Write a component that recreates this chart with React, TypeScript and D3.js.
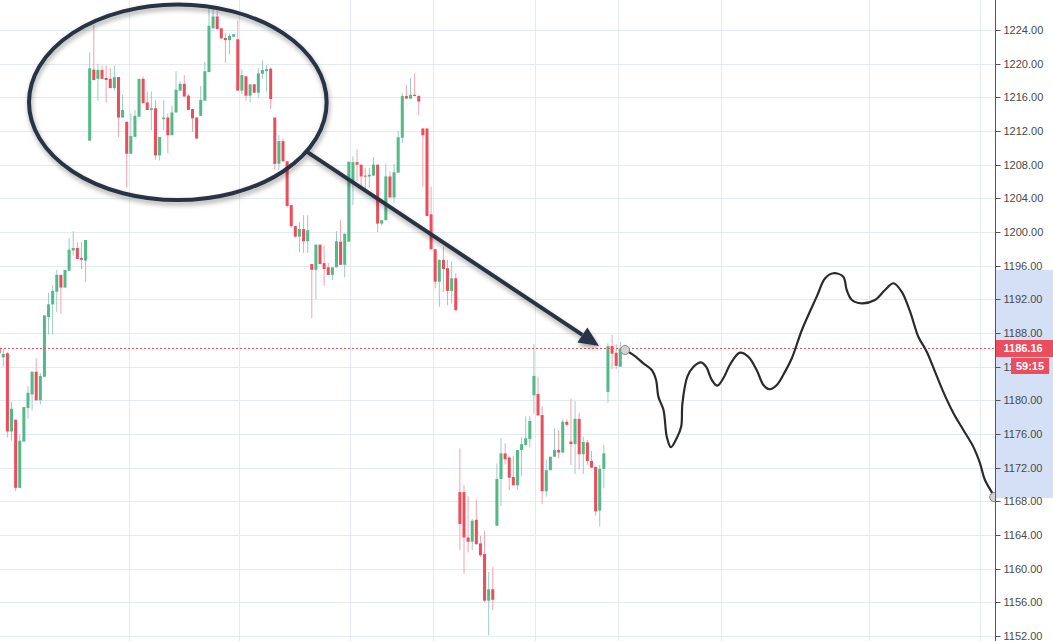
import React from "react";
import * as d3 from "d3";

// ---- data (bar index, OHLC) ----
const OPENS = [1186.2,1185.1,1185.6,1176.3,1177.7,1169.6,1175.1,1179.1,1180.7,1183.4,1180.0,1182.8,1189.9,1191.4,1192.9,1194.9,1193.4,1195.4,1197.8,1198.1,1196.9,1196.6,1210.85,1219.3,1218.2,1219.25,1218.3,1218.2,1217.1,1218.4,1213.6,1213.1,1209.3,1211.3,1213.7,1218.2,1215.4,1214.5,1214.7,1209.1,1213.4,1213.6,1211.5,1214.2,1216.8,1217.6,1216.2,1214.6,1213.6,1213.8,1215.6,1219.0,1224.2,1225.6,1224.2,1223.05,1222.8,1223.2,1222.9,1216.8,1218.5,1216.2,1217.55,1216.55,1218.8,1219.1,1219.4,1213.6,1208.1,1210.8,1208.4,1203.2,1200.7,1199.45,1200.35,1198.9,1196.2,1195.5,1198.5,1196.3,1195.8,1194.9,1195.8,1198.85,1196.1,1198.85,1206.0,1208.3,1208.0,1206.7,1206.6,1206.7,1208.0,1201.0,1201.4,1206.6,1204.1,1207.05,1211.2,1216.15,1215.85,1216.3,1216.15,1212.3,1212.3,1202.1,1197.95,1194.1,1196.7,1195.7,1193.0,1194.5,1169.1,1169.1,1163.7,1163.2,1165.8,1163.0,1161.75,1156.2,1157.55,1165.1,1170.65,1173.7,1173.2,1170.9,1169.9,1174.1,1174.7,1175.4,1180.6,1180.75,1178.25,1169.2,1171.7,1173.3,1174.1,1173.8,1177.45,1175.1,1174.8,1177.8,1173.6,1175.0,1172.8,1172.1,1166.9,1171.85,1181.0,1186.45,1185.65,1184.0];
const HIGHS = [1186.3,1186.1,1185.7,1179.8,1177.7,1175.9,1179.2,1181.7,1183.4,1185.0,1183.25,1190.1,1192.8,1193.7,1195.5,1194.9,1195.5,1199.3,1200.1,1198.8,1198.8,1199.05,1221.35,1224.6,1220.0,1219.8,1219.8,1219.5,1219.8,1218.4,1216.3,1213.1,1214.1,1214.5,1218.2,1218.45,1216.7,1216.7,1215.7,1211.3,1215.7,1214.1,1215.0,1219.1,1217.9,1218.65,1216.4,1214.6,1213.6,1217.35,1220.2,1226.5,1226.5,1226.5,1224.2,1223.6,1223.6,1223.5,1225.1,1219.3,1218.5,1217.55,1217.55,1219.45,1220.4,1219.8,1219.6,1213.6,1211.5,1211.1,1208.4,1203.2,1200.7,1201.15,1202.0,1202.0,1196.2,1198.5,1198.5,1198.4,1196.3,1195.8,1200.1,1201.4,1199.8,1208.35,1209.0,1209.8,1208.0,1207.6,1207.6,1208.9,1208.0,1201.4,1208.1,1207.2,1208.1,1212.0,1216.5,1217.5,1218.3,1218.85,1216.3,1212.3,1212.3,1205.4,1197.95,1196.7,1198.25,1196.7,1196.5,1195.1,1174.3,1169.95,1168.6,1165.9,1168.2,1163.9,1164.5,1159.6,1160.2,1172.5,1175.5,1174.9,1173.4,1173.4,1174.1,1175.6,1178.1,1178.1,1186.7,1182.8,1179.25,1172.9,1173.3,1176.7,1176.5,1177.75,1177.75,1180.2,1179.9,1178.5,1175.7,1175.3,1174.0,1172.1,1172.3,1174.7,1186.8,1187.8,1186.7,1186.97];
const LOWS = [1185.4,1184.0,1175.6,1175.2,1169.2,1169.6,1175.1,1177.8,1178.8,1180.0,1179.5,1182.8,1187.8,1187.8,1190.5,1190.3,1193.4,1195.4,1197.2,1196.8,1195.6,1194.1,1210.85,1218.0,1215.6,1218.2,1215.4,1217.1,1216.8,1211.3,1213.6,1205.3,1209.3,1211.3,1213.7,1215.3,1214.5,1212.1,1208.6,1208.5,1212.1,1209.35,1211.5,1214.2,1216.8,1216.1,1214.5,1211.9,1211.1,1213.8,1215.6,1219.0,1224.2,1224.1,1223.0,1220.1,1221.1,1223.2,1216.8,1216.4,1215.6,1215.4,1216.55,1216.0,1218.2,1216.7,1214.6,1207.4,1207.4,1208.4,1202.9,1200.55,1199.3,1197.6,1197.5,1197.5,1189.75,1192.0,1196.2,1193.6,1194.9,1194.3,1195.8,1196.1,1194.6,1198.85,1203.2,1206.0,1205.2,1205.1,1205.3,1206.7,1200.0,1200.7,1201.4,1204.1,1203.5,1207.05,1210.6,1215.85,1215.85,1216.15,1213.9,1205.4,1201.9,1197.95,1193.3,1191.1,1192.9,1191.3,1191.5,1190.7,1162.2,1159.4,1161.95,1162.2,1162.9,1161.4,1156.0,1152.1,1155.1,1165.1,1167.45,1172.4,1169.35,1169.9,1169.4,1171.0,1174.6,1174.4,1178.4,1178.2,1167.7,1168.55,1171.7,1173.3,1173.1,1173.8,1176.9,1172.3,1171.25,1171.8,1171.25,1172.3,1172.0,1166.3,1165.0,1169.55,1179.7,1183.7,1183.7,1184.0];
const CLOSES = [1185.6,1185.5,1176.3,1179.0,1169.6,1175.2,1179.2,1180.9,1183.4,1180.0,1182.9,1190.1,1191.4,1193.0,1194.9,1193.4,1195.5,1197.9,1198.1,1196.8,1196.7,1199.05,1219.45,1218.06,1219.25,1218.2,1218.06,1217.1,1218.4,1213.6,1214.5,1209.3,1211.4,1213.8,1218.2,1215.3,1214.5,1214.7,1209.1,1211.3,1213.6,1211.5,1214.2,1216.9,1217.6,1216.1,1214.5,1213.5,1211.1,1215.7,1219.1,1224.5,1225.6,1224.1,1223.0,1222.8,1223.3,1223.5,1216.8,1218.65,1216.2,1217.55,1216.55,1218.85,1219.25,1219.35,1215.8,1208.1,1210.8,1208.4,1203.1,1200.7,1199.45,1200.35,1198.9,1200.2,1195.5,1198.5,1196.2,1195.6,1194.9,1195.8,1198.9,1196.1,1199.8,1208.35,1208.3,1208.0,1206.6,1206.6,1206.8,1208.0,1201.0,1201.4,1206.6,1204.1,1207.1,1211.25,1216.15,1215.85,1216.3,1216.15,1215.5,1211.5,1201.9,1197.95,1194.1,1196.7,1195.6,1193.0,1194.5,1190.7,1165.3,1163.7,1163.2,1165.7,1162.9,1161.6,1156.2,1157.55,1156.3,1170.65,1173.7,1173.0,1170.8,1169.9,1174.1,1174.8,1175.5,1177.55,1182.9,1178.2,1169.2,1171.7,1173.3,1174.1,1173.8,1177.45,1177.1,1174.8,1177.8,1173.6,1175.05,1172.8,1172.0,1166.8,1171.85,1173.7,1186.45,1185.55,1184.1,1186.16];

const PRICE_TICKS = d3.range(1152, 1225, 4);
const TIME_GRID = [31.45, 58.4, 85.35, 105.4, 130.3, 150.35, 175.4, 211.4, 238.4];
const LAST_PRICE = 1186.16;
const COUNTDOWN = "59:15";

// hand-drawn forecast path (bar index, price)
const DRAW_IDX = [152.16,154.17,156.6,158.65,159.7,160.25,161.5,162.3,163.3,164.7,165.8,166.1,167.3,168.8,170.6,171.85,173.25,174.6,176.05,177.85,180.1,182.1,184.15,185.8,187.25,189.05,191.05,192.7,195.15,198.75,200.8,202.8,205.2,206.05,207.3,209.7,212.9,215.35,217.4,219.4,221.45,223.45,225.5,227.5,229.5,232.0,234.4,236.8,238.45,239.65,241.7,241.9];
const DRAW_PRICE = [1185.98,1185.39,1184.4,1183.6,1182.42,1180.44,1178.86,1175.68,1174.43,1175.5,1176.87,1179.65,1182.81,1184.0,1184.52,1184.0,1182.42,1181.74,1182.62,1184.4,1185.66,1185.19,1183.6,1181.83,1181.32,1181.83,1183.41,1185.0,1188.36,1192.32,1194.5,1195.1,1194.69,1193.11,1191.92,1191.53,1191.92,1193.11,1193.91,1192.91,1190.53,1187.56,1185.78,1183.41,1181.03,1178.46,1176.48,1174.5,1172.52,1170.54,1168.76,1168.5];

// ellipse + arrow annotation (bar index, price)
const ELLIPSE = { idx: 43.43, price: 1215.41, rIdx: 36.18, rPrice: 11.62 };
const ARROW_FROM = { idx: 74.77, price: 1209.54 };
const ARROW_TO = { idx: 145.83, price: 1186.46 };
const RANGE_HILITE = [1195.5, 1168.4];

const W = 1053, H = 641, AXIS_X = 995.5;
const UP = "#53b987", DOWN = "#eb4d5c", UP_WICK = "#9ecbc7", DOWN_WICK = "#f4a3ab";
const GRID = "#e3ebf0";

export default function App() {
  const x = d3.scaleLinear().domain([1, 151]).range([3.3, 620.3]);
  const y = d3.scaleLinear().domain([1152, 1224]).range([636, 30]);

  const bars = OPENS.map((o, i) => ({ i, o, h: HIGHS[i], l: LOWS[i], c: CLOSES[i] }));

  const linePath = d3
    .line<number>()
    .x((_, k) => x(DRAW_IDX[k]))
    .y((p) => y(p))
    .curve(d3.curveCatmullRom.alpha(0.5))(DRAW_PRICE) || "";

  const ecx = x(ELLIPSE.idx), ecy = y(ELLIPSE.price);
  const erx = x(ELLIPSE.idx + ELLIPSE.rIdx) - ecx;
  const ery = y(ELLIPSE.price - ELLIPSE.rPrice) - ecy;

  const ax0 = x(ARROW_FROM.idx), ay0 = y(ARROW_FROM.price);
  const ax1 = x(ARROW_TO.idx), ay1 = y(ARROW_TO.price);
  const ang = Math.atan2(ay1 - ay0, ax1 - ax0);
  const headLen = 20, headW = 9;
  const bx = ax1 - headLen * Math.cos(ang), by = ay1 - headLen * Math.sin(ang);
  const nx = -Math.sin(ang), ny = Math.cos(ang);
  const head = `${ax1},${ay1} ${bx + nx * headW},${by + ny * headW} ${bx - nx * headW},${by - ny * headW}`;

  const font = "'Liberation Sans', Arial, sans-serif";

  return (
    <div style={{ position: "absolute", left: 0, top: 0, width: W, height: H, background: "#fff" }}>
      <svg width={W} height={H} style={{ display: "block" }}>
        <defs>
          <clipPath id="plot">
            <rect x={0} y={0} width={AXIS_X} height={H} />
          </clipPath>
          <filter id="shadow" x="-20%" y="-20%" width="140%" height="140%">
            <feDropShadow dx="1" dy="3" stdDeviation="2.5" floodColor="#000" floodOpacity="0.35" />
          </filter>
        </defs>
        <rect x={0} y={0} width={W} height={H} fill="#fff" />
        <g clipPath="url(#plot)">
          {PRICE_TICKS.map((t) => (
            <line key={"h" + t} x1={0} x2={AXIS_X} y1={Math.round(y(t)) + 0.5} y2={Math.round(y(t)) + 0.5} stroke={GRID} strokeWidth={1} />
          ))}
          {TIME_GRID.map((t) => (
            <line key={"v" + t} x1={Math.round(x(t)) + 0.5} x2={Math.round(x(t)) + 0.5} y1={0} y2={H} stroke={GRID} strokeWidth={1} />
          ))}
          {bars.map((b) => {
            const up = b.c >= b.o;
            const cx = x(b.i);
            const top = y(Math.max(b.o, b.c));
            const bot = y(Math.min(b.o, b.c));
            return (
              <g key={b.i}>
                <line x1={cx} x2={cx} y1={y(b.h)} y2={y(b.l)} stroke={up ? UP_WICK : DOWN_WICK} strokeWidth={1} />
                <rect x={cx - 1.5} y={top} width={3} height={Math.max(1, bot - top)} fill={up ? UP : DOWN} />
              </g>
            );
          })}
          <line x1={0} x2={AXIS_X} y1={y(LAST_PRICE)} y2={y(LAST_PRICE)} stroke={DOWN} strokeWidth={1} strokeDasharray="2,2" />

          <g filter="url(#shadow)">
            <ellipse cx={ecx} cy={ecy} rx={erx} ry={ery} fill="none" stroke="#2a3344" strokeWidth={4} />
            <line x1={ax0} y1={ay0} x2={bx} y2={by} stroke="#2a3344" strokeWidth={4} />
            <polygon points={head} fill="#2a3344" />
          </g>

          <path d={linePath} fill="none" stroke="#2b2b2b" strokeWidth={2.2} strokeLinecap="round" strokeLinejoin="round" />
          <circle cx={x(DRAW_IDX[0])} cy={y(DRAW_PRICE[0])} r={4.5} fill="#d4d4d4" stroke="#8a8a8a" strokeWidth={1} />
          <circle cx={x(DRAW_IDX[DRAW_IDX.length - 1])} cy={y(DRAW_PRICE[DRAW_PRICE.length - 1])} r={4.5} fill="#d4d4d4" stroke="#8a8a8a" strokeWidth={1} />
        </g>

        {/* price axis */}
        <rect x={AXIS_X + 0.5} y={y(RANGE_HILITE[0])} width={W - AXIS_X} height={y(RANGE_HILITE[1]) - y(RANGE_HILITE[0])} fill="#d3e0f6" />
        <line x1={AXIS_X} x2={AXIS_X} y1={0} y2={H} stroke="#555" strokeWidth={1} />
        {PRICE_TICKS.map((t) => (
          <g key={"t" + t}>
            <line x1={AXIS_X} x2={AXIS_X + 5} y1={Math.round(y(t)) + 0.5} y2={Math.round(y(t)) + 0.5} stroke="#555" />
            <text x={AXIS_X + 8} y={y(t)} dy="0.35em" fontFamily={font} fontSize={11} fill="#4a4a4a">
              {t.toFixed(2)}
            </text>
          </g>
        ))}
        <rect x={AXIS_X + 0.5} y={y(LAST_PRICE) - 8.5} width={W - AXIS_X} height={17} fill={DOWN} />
        <text x={AXIS_X + 8} y={y(LAST_PRICE)} dy="0.35em" fontFamily={font} fontSize={11} fontWeight="bold" fill="#fff">
          {LAST_PRICE.toFixed(2)}
        </text>
        <rect x={1011} y={y(LAST_PRICE) + 9.5} width={38} height={16} fill={DOWN} />
        <text x={1030} y={y(LAST_PRICE) + 17.5} dy="0.35em" textAnchor="middle" fontFamily={font} fontSize={11} fontWeight="bold" fill="#fff">
          {COUNTDOWN}
        </text>
      </svg>
    </div>
  );
}
